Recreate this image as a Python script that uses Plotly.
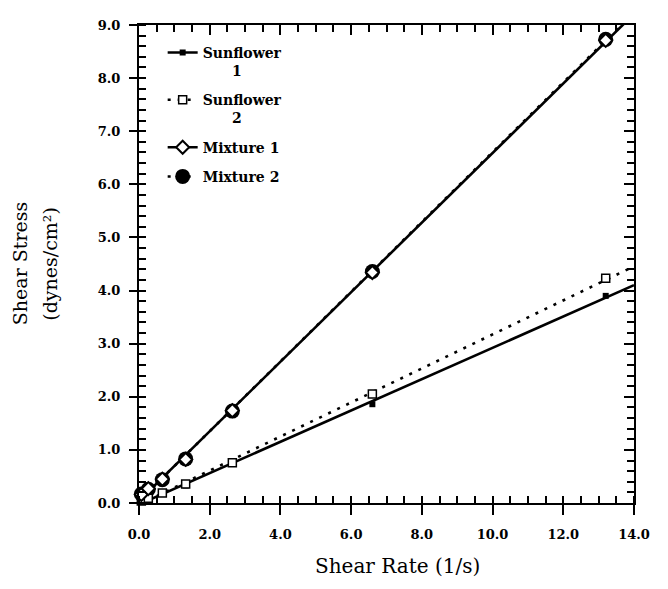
import numpy as np
import plotly.graph_objects as go

# ---- data ----
shear_rate = [0.066, 0.264, 0.66, 1.32, 2.64, 6.6, 13.2]
sunflower1 = [0.03, 0.08, 0.17, 0.33, 0.74, 1.86, 3.90]
sunflower2 = [0.04, 0.09, 0.19, 0.36, 0.76, 2.05, 4.23]
mixture1 = [0.16, 0.27, 0.45, 0.82, 1.74, 4.34, 8.71]
mixture2 = [0.17, 0.26, 0.44, 0.83, 1.73, 4.36, 8.73]
x_range = [0, 14]
y_range = [0, 9]

# page body has an 8px margin: lay out in reference pixels, then shift
OFF = 8
W, H = 668 - 2 * OFF, 589 - 2 * OFF
L, R, T, B = 139 - OFF, 641 - OFF, 18 - OFF, 503 - OFF
ML, MR, MT, MB = L, W - R, T, H - B
plot_w, plot_h = R - L, B - T


def px_x(px):
    return (px - OFF - L) / plot_w


def px_y(py):
    return (B - (py - OFF)) / plot_h


fig = go.Figure()

fit_x = np.array(x_range, dtype=float)
series = [
    ("Sunflower<br>      1", sunflower1, "solid", dict(symbol="square", size=6, color="black")),
    ("Sunflower<br>      2", sunflower2, "3px,7px", dict(symbol="square", size=8, color="white", line=dict(color="black", width=1.5))),
    ("Mixture 1", mixture1, "solid", dict(symbol="diamond", size=10, color="white", line=dict(color="black", width=2))),
    ("Mixture 2", mixture2, "3px,7px", dict(symbol="circle", size=15, color="black")),
]

# fitted lines
for name, ys, dash, mk in series:
    k, b = np.polyfit(shear_rate, ys, 1)
    fig.add_trace(go.Scatter(x=fit_x, y=k * fit_x + b, mode="lines",
                             line=dict(color="black", width=2.6, dash=dash),
                             showlegend=False, hoverinfo="skip"))

# data markers (circles under diamonds)
for idx in [3, 0, 1, 2]:
    name, ys, dash, mk = series[idx]
    fig.add_trace(go.Scatter(x=shear_rate, y=ys, mode="markers", marker=mk,
                             showlegend=False, cliponaxis=False))

# legend entries
for i, (name, ys, dash, mk) in enumerate(series):
    fig.add_trace(go.Scatter(x=[None], y=[None], mode="lines+markers", name=name,
                             line=dict(color="black", width=2.5, dash=dash),
                             marker=mk, xaxis="x2", yaxis="y2",
                             legendgroup=f"g{i}", showlegend=True))

tick_font = dict(family="DejaVu Serif", size=13, color="black", weight="bold")
minor_x = dict(dtick=0.5, ticks="inside", ticklen=7, tickwidth=2, tickcolor="black", showgrid=False)
minor_y = dict(dtick=0.2, ticks="inside", ticklen=7, tickwidth=2, tickcolor="black", showgrid=False)

fig.update_layout(
    width=W, height=H,
    margin=dict(l=ML, r=MR, t=MT, b=MB),
    paper_bgcolor="white", plot_bgcolor="white",
    font=dict(family="DejaVu Serif", color="black"),
    showlegend=True,
    legend=dict(x=px_x(163), y=px_y(30), xanchor="left", yanchor="top",
                bgcolor="rgba(0,0,0,0)", borderwidth=0,
                font=dict(family="DejaVu Serif", size=14, color="black", weight="bold"),
                tracegroupgap=8, valign="top", itemwidth=30),
    xaxis=dict(range=x_range, tick0=0, dtick=2, tickformat=".1f",
               ticks="outside", ticklen=10, tickwidth=2, tickcolor="black",
               minor=minor_x,
               showline=True, linewidth=2, linecolor="black",
               showgrid=False, zeroline=False, tickfont=tick_font, ticklabelstandoff=8),
    yaxis=dict(range=y_range, tick0=0, dtick=1, tickformat=".1f",
               ticks="outside", ticklen=8, tickwidth=2, tickcolor="black",
               minor=minor_y,
               showline=True, linewidth=2, linecolor="black",
               showgrid=False, zeroline=False, tickfont=tick_font, ticklabelstandoff=6),
    xaxis2=dict(range=x_range, overlaying="x", side="top", anchor="y2",
                tick0=0, dtick=2, ticks="inside", ticklen=10, tickwidth=2, tickcolor="black",
                minor=minor_x,
                showticklabels=False, showline=True, linewidth=2, linecolor="black",
                showgrid=False, zeroline=False),
    yaxis2=dict(range=y_range, overlaying="y", side="right", anchor="x2",
                tick0=0, dtick=1, ticks="inside", ticklen=10, tickwidth=2, tickcolor="black",
                minor=minor_y,
                showticklabels=False, showline=True, linewidth=2, linecolor="black",
                showgrid=False, zeroline=False),
)

# axis titles as text annotations
fig.add_annotation(text="Shear Rate (1/s)", showarrow=False, xref="paper", yref="paper",
                   x=px_x(401), y=px_y(567), xanchor="center", yanchor="middle",
                   font=dict(family="DejaVu Serif", size=20, color="black"))
for text, px in [("Shear Stress", 18), ("(dynes/cm²)", 48)]:
    fig.add_annotation(text=text, textangle=-90, showarrow=False,
                       xref="paper", yref="paper",
                       x=px_x(px), y=px_y(260), xanchor="center", yanchor="middle",
                       font=dict(family="DejaVu Serif", size=19, color="black"))

fig.write_html("out.html")
